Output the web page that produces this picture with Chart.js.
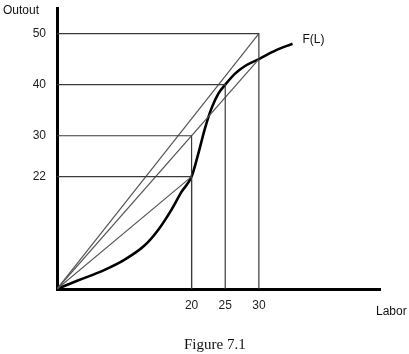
<!DOCTYPE html>
<html>
<head>
<meta charset="utf-8">
<script src="https://cdn.jsdelivr.net/npm/chart.js@4.4.1/dist/chart.umd.min.js"></script>
<style>
  html, body { margin: 0; padding: 0; background: #fff; }
  #wrap { width: 409px; height: 354px; position: relative; }
</style>
</head>
<body>
<div id="wrap"><canvas id="chart"></canvas></div>
<script>
// tick labels
const laborTicks = [20, 25, 30]
const outputTicks = [22, 30, 40, 50]

// production function F(L)
const fLabor  = [0, 3, 7, 10, 13, 15, 17, 18.5, 20, 21, 22, 23, 24, 25, 26.5, 28, 30, 32.5, 35]
const fOutput = [0, 1.6, 3.7, 5.7, 8.5, 11.5, 15.5, 19, 22, 26.5, 31.5, 35.5, 38.3, 40, 42.2, 43.7, 45, 46.7, 48]

// guide lines: horizontal from the y axis, vertical down to the x axis
const guideOutput = [50, 40, 30, 22]
const guideLabor  = [30, 25, 20, 20]

// rays from the origin
const rayLabor  = [30, 30, 20]
const rayOutput = [50, 45, 22]

const thin = '#3a3a3a'
const datasets = []

guideOutput.forEach((y, i) => {
  datasets.push({
    data: [{x: 0, y: y}, {x: guideLabor[i], y: y}, {x: guideLabor[i], y: 0}],
    borderColor: thin, borderWidth: 1.2, pointRadius: 0, showLine: true, tension: 0
  })
})

rayLabor.forEach((x, i) => {
  datasets.push({
    data: [{x: 0, y: 0}, {x: x, y: rayOutput[i]}],
    borderColor: '#555', borderWidth: 1.2, pointRadius: 0, showLine: true, tension: 0
  })
})

datasets.push({
  label: 'F(L)',
  data: fLabor.map((x, i) => ({x: x, y: fOutput[i]})),
  borderColor: '#000', borderWidth: 2.6, pointRadius: 0, showLine: true,
  cubicInterpolationMode: 'monotone'
})

const textPlugin = {
  id: 'texts',
  afterDraw(chart) {
    const ctx = chart.ctx
    const xs = chart.scales.x, ys = chart.scales.y
    ctx.save()
    ctx.fillStyle = '#111'
    ctx.font = '12px "Liberation Sans", Arial, sans-serif'
    ctx.textAlign = 'left'
    ctx.textBaseline = 'alphabetic'
    ctx.fillText('Outout', 3, 14)
    ctx.fillText('Labor', 376, 315)
    const last = fLabor.length - 1
    ctx.fillText('F(L)', xs.getPixelForValue(fLabor[last]) + 10, ys.getPixelForValue(fOutput[last]) - 1)
    ctx.font = '15px "Liberation Serif", "Times New Roman", serif'
    ctx.fillText('Figure 7.1', 184, 349)
    ctx.restore()
  }
}

new Chart(document.getElementById('chart'), {
  type: 'scatter',
  data: { datasets: datasets },
  options: {
    responsive: true,
    maintainAspectRatio: false,
    animation: false,
    devicePixelRatio: 1,
    layout: { padding: { top: 8, right: 29, left: 0, bottom: 0 } },
    plugins: { legend: { display: false }, tooltip: { enabled: false } },
    scales: {
      x: {
        type: 'linear', min: 0, max: 48,
        afterBuildTicks: s => { s.ticks = laborTicks.map(v => ({value: v})) },
        afterFit: s => { s.height = 65; s.paddingLeft = 0; s.paddingRight = 0 },
        grid: { display: false, drawTicks: false },
        border: { display: true, color: '#000', width: 3 },
        ticks: { color: '#222', padding: 9, font: { size: 12, family: '"Liberation Sans", Arial' }, maxRotation: 0 }
      },
      y: {
        type: 'linear', min: 0, max: 55,
        afterBuildTicks: s => { s.ticks = outputTicks.map(v => ({value: v})) },
        afterFit: s => { s.width = 57; s.paddingTop = 0; s.paddingBottom = 0 },
        grid: { display: false, drawTicks: false },
        border: { display: true, color: '#000', width: 3 },
        ticks: { color: '#222', padding: 11, font: { size: 12, family: '"Liberation Sans", Arial' } }
      }
    }
  },
  plugins: [textPlugin]
})
</script>
</body>
</html>
